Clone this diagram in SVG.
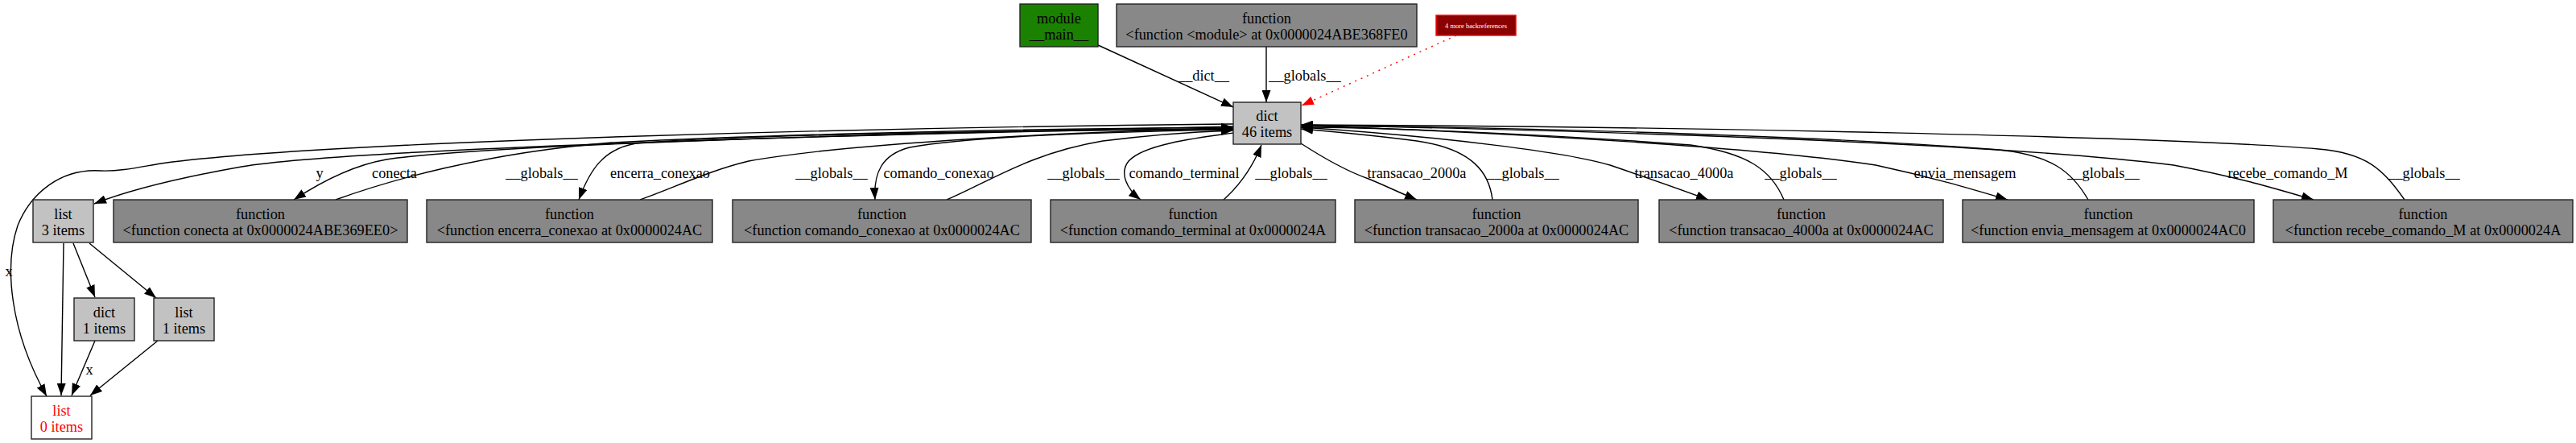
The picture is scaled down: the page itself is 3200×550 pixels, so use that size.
<svg xmlns="http://www.w3.org/2000/svg" width="3200" height="550" viewBox="0 0 3200 550">
<style>
.n rect{stroke:#222;stroke-width:1.4}
.fn rect{fill:#888888}
.gr rect{fill:#c2c2c2}
text{font-family:"Liberation Serif","Times New Roman",serif;font-size:18.3px;fill:#000}
.n text{text-anchor:middle}
.lbl text{text-anchor:middle}
.e path{fill:none;stroke:#000;stroke-width:1.4;marker-end:url(#ah)}
</style>
<defs>
<marker id="ah" markerUnits="userSpaceOnUse" markerWidth="15" markerHeight="11" viewBox="0 0 15 11" refX="15" refY="5.5" orient="auto"><path d="M0,0 L15,5.5 L0,11 z" fill="#000"/></marker>
<marker id="ahr" markerUnits="userSpaceOnUse" markerWidth="15" markerHeight="11" viewBox="0 0 15 11" refX="15" refY="5.5" orient="auto"><path d="M0,0 L15,5.5 L0,11 z" fill="#ff0000"/></marker>
</defs>
<rect width="3200" height="550" fill="#fff"/>
<g id="edges" class="e">
<path d="M1364,56 L1532,133"/>
<path d="M1573,58 L1573,127"/>
<path d="M1809,44 L1617,131" style="stroke:#ff0000;stroke-dasharray:2,6;marker-end:url(#ahr)"/>
<path d="M1532,154 C1100,158 400,175 200,203 C175,207 150,213 125,212 C75,209 38,240 22,280 C5,330 12,410 58,492"/>
<path d="M1532,157 C1000,168 420,186 300,207 C210,223 150,240 117,253"/>
<path d="M1532,159 C1100,165 600,180 480,198 C440,205 400,225 365,248"/>
<path d="M417,248 C480,225 600,190 760,177 C1000,165 1300,160 1532,158"/>
<path d="M1532,160 C1200,163 900,168 790,178 C750,185 733,210 719,248"/>
<path d="M795,248 C840,232 880,212 930,200 C1050,178 1350,162 1532,160"/>
<path d="M1532,161 C1350,164 1200,170 1130,183 C1095,192 1085,215 1087,248"/>
<path d="M1176,248 C1230,225 1280,190 1370,175 C1450,165 1500,163 1532,162"/>
<path d="M1532,165 C1480,172 1420,180 1402,200 C1390,215 1400,235 1417,248"/>
<path d="M1520,248 C1540,230 1555,210 1567,180"/>
<path d="M1616,178 C1650,200 1680,215 1700,222 C1720,230 1740,240 1760,248"/>
<path d="M1854,248 C1850,215 1830,185 1760,175 C1700,167 1650,163 1616,160"/>
<path d="M1616,158 C1800,170 1950,190 2000,205 C2050,222 2090,236 2122,248"/>
<path d="M2216,248 C2200,210 2170,190 2100,180 C1900,165 1700,158 1616,158"/>
<path d="M1616,156 C1900,165 2200,185 2330,205 C2400,220 2450,235 2494,248"/>
<path d="M2594,248 C2575,215 2550,190 2470,185 C2200,165 1800,157 1616,156"/>
<path d="M1616,155 C2100,165 2500,180 2700,205 C2780,220 2830,235 2874,248"/>
<path d="M2987,248 C2960,210 2940,190 2880,185 C2700,170 2100,157 1616,155"/>
<path d="M79,302 L76,491"/>
<path d="M91,302 L118,369"/>
<path d="M111,302 L194,370"/>
<path d="M118,423 L89,491"/>
<path d="M196,423 L112,491"/>
</g>
<g id="edge-labels" class="lbl">
<text x="1495" y="100">__dict__</text>
<text x="1621" y="100">__globals__</text>
<text x="397" y="221">y</text>
<text x="490" y="221">conecta</text>
<text x="673" y="221">__globals__</text>
<text x="820" y="221">encerra_conexao</text>
<text x="1033" y="221">__globals__</text>
<text x="1166" y="221">comando_conexao</text>
<text x="1346" y="221">__globals__</text>
<text x="1471" y="221">comando_terminal</text>
<text x="1604" y="221">__globals__</text>
<text x="1760" y="221">transacao_2000a</text>
<text x="1892" y="221">__globals__</text>
<text x="2092" y="221">transacao_4000a</text>
<text x="2237" y="221">__globals__</text>
<text x="2441" y="221">envia_mensagem</text>
<text x="2613" y="221">__globals__</text>
<text x="2842" y="221">recebe_comando_M</text>
<text x="3011" y="221">__globals__</text>
<text x="11" y="343">x</text>
<text x="111" y="465">x</text>
</g>
<g id="module_main" class="n"><rect x="1267" y="5" width="97" height="53" fill="#1b8100"/><text x="1315.5" y="28.5">module</text><text x="1315.5" y="48.5">__main__</text></g>
<g id="func_module" class="n fn"><rect x="1387" y="5" width="373" height="53"/><text x="1573.5" y="28.5">function</text><text x="1573.5" y="48.5">&lt;function &lt;module&gt; at 0x0000024ABE368FE0</text></g>
<g id="backrefs" class="n"><rect x="1784" y="19" width="99" height="25" fill="#8b0000" style="stroke:#ff0000"/><text x="1833.5" y="34.5" style="font-size:8.5px;fill:#fff">4 more backreferences</text></g>
<g id="dict46" class="n gr"><rect x="1532" y="127" width="84" height="52"/><text x="1574" y="150">dict</text><text x="1574" y="170">46 items</text></g>
<g id="list3" class="n gr"><rect x="41" y="248" width="75" height="53"/><text x="78.5" y="271.5">list</text><text x="78.5" y="291.5">3 items</text></g>
<g id="f_conecta" class="n fn"><rect x="141" y="248" width="365" height="53"/><text x="323.5" y="271.5">function</text><text x="323.5" y="291.5">&lt;function conecta at 0x0000024ABE369EE0&gt;</text></g>
<g id="f_encerra" class="n fn"><rect x="530" y="248" width="355" height="53"/><text x="707.5" y="271.5">function</text><text x="707.5" y="291.5">&lt;function encerra_conexao at 0x0000024AC</text></g>
<g id="f_comando_conexao" class="n fn"><rect x="910" y="248" width="371" height="53"/><text x="1095.5" y="271.5">function</text><text x="1095.5" y="291.5">&lt;function comando_conexao at 0x0000024AC</text></g>
<g id="f_comando_terminal" class="n fn"><rect x="1305" y="248" width="354" height="53"/><text x="1482" y="271.5">function</text><text x="1482" y="291.5">&lt;function comando_terminal at 0x0000024A</text></g>
<g id="f_transacao_2000a" class="n fn"><rect x="1683" y="248" width="352" height="53"/><text x="1859" y="271.5">function</text><text x="1859" y="291.5">&lt;function transacao_2000a at 0x0000024AC</text></g>
<g id="f_transacao_4000a" class="n fn"><rect x="2061" y="248" width="353" height="53"/><text x="2237.5" y="271.5">function</text><text x="2237.5" y="291.5">&lt;function transacao_4000a at 0x0000024AC</text></g>
<g id="f_envia" class="n fn"><rect x="2438" y="248" width="362" height="53"/><text x="2619" y="271.5">function</text><text x="2619" y="291.5">&lt;function envia_mensagem at 0x0000024AC0</text></g>
<g id="f_recebe" class="n fn"><rect x="2824" y="248" width="372" height="53"/><text x="3010" y="271.5">function</text><text x="3010" y="291.5">&lt;function recebe_comando_M at 0x0000024A</text></g>
<g id="dict1" class="n gr"><rect x="92" y="370" width="75" height="53"/><text x="129.5" y="393.5">dict</text><text x="129.5" y="413.5">1 items</text></g>
<g id="list1" class="n gr"><rect x="191" y="370" width="75" height="53"/><text x="228.5" y="393.5">list</text><text x="228.5" y="413.5">1 items</text></g>
<g id="list0" class="n"><rect x="39" y="492" width="75" height="53" fill="#fff"/><text x="76.5" y="515.5" style="fill:#ff0000">list</text><text x="76.5" y="535.5" style="fill:#ff0000">0 items</text></g>
</svg>
